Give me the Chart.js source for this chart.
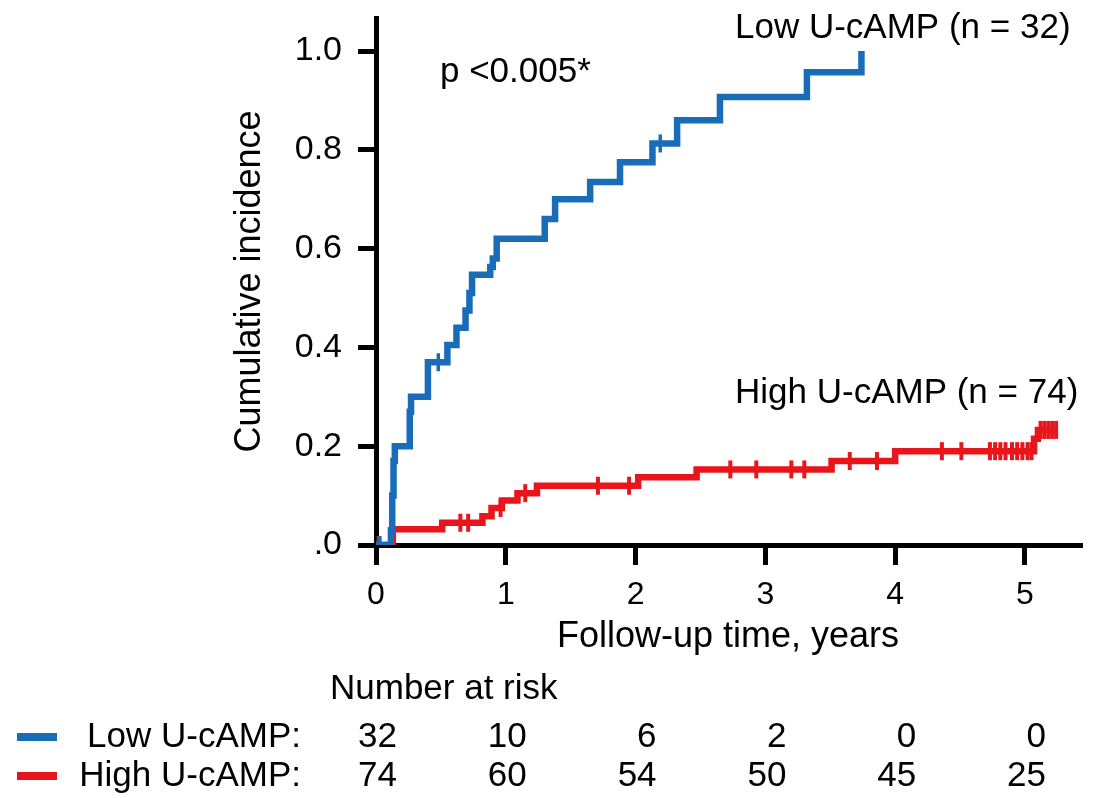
<!DOCTYPE html>
<html>
<head>
<meta charset="utf-8">
<script src="https://cdn.jsdelivr.net/npm/chart.js@4.4.1/dist/chart.umd.min.js"></script>
<style>
  html, body { margin: 0; padding: 0; background: #fff; overflow: hidden; }
  #wrap { width: 1093px; height: 798px; }
  canvas { display: block; }
</style>
</head>
<body>
<div id="wrap"><canvas id="kmChart" width="1093" height="798"></canvas></div>
<script>
// step curves (time in years, cumulative incidence)
const lowTimes  = [0, 0.115, 0.125, 0.135, 0.145, 0.26, 0.27, 0.40, 0.55, 0.62, 0.69, 0.72, 0.74, 0.88, 0.90, 0.93, 1.30, 1.38, 1.65, 1.88, 2.13, 2.32, 2.65, 3.32, 3.74];
const lowValues = [0, 0.03, 0.10, 0.17, 0.20, 0.27, 0.30, 0.37, 0.405, 0.44, 0.475, 0.51, 0.547, 0.563, 0.58, 0.62, 0.66, 0.70, 0.735, 0.775, 0.813, 0.86, 0.907, 0.957, 1.0];
const lowCensored = [0.03, 0.11, 0.48, 2.19];

const highTimes  = [0, 0.13, 0.51, 0.82, 0.89, 0.97, 1.09, 1.24, 2.02, 2.47, 3.51, 4.00, 5.07, 5.10, 5.25];
const highValues = [0, 0.032, 0.045, 0.058, 0.075, 0.09, 0.105, 0.12, 0.137, 0.153, 0.17, 0.19, 0.215, 0.233, 0.233];
const highCensored = [0.02, 0.65, 0.71, 0.96, 1.15, 1.71, 1.95, 2.73, 2.93, 3.20, 3.30, 3.65, 3.86, 4.36, 4.51,
                      4.73, 4.77, 4.81, 4.85, 4.90, 4.94, 4.98, 5.02, 5.05, 5.12, 5.15, 5.18, 5.21, 5.24];

const xTicks = [0, 1, 2, 3, 4, 5];
const yTicks = [0, 0.2, 0.4, 0.6, 0.8, 1.0];
const yTickLabels = ['.0', '0.2', '0.4', '0.6', '0.8', '1.0'];

const riskTimes = [0, 1, 2, 3, 4, 5];
const riskLow  = [32, 10, 6, 2, 0, 0];
const riskHigh = [74, 60, 54, 50, 45, 25];

const blue = 'rgb(24,108,184)';
const red = 'rgb(232,22,28)';
const fontFamily = '"Liberation Sans", Arial, sans-serif';

function stepValue(times, values, t) {
    let v = values[0];
    for (let i = 0; i < times.length; i++) {
        if (times[i] <= t) v = values[i];
    }
    return v;
}

const toPoints = (ts, vs) => ts.map((t, i) => ({ x: t, y: vs[i] }));
const censorPoints = (cs, ts, vs) => cs.map((t) => ({ x: t, y: stepValue(ts, vs, t) }));

// scales must not reserve extra room for their labels, the layout is fixed
function noScalePadding(scale) {
    scale.paddingTop = 0;
    scale.paddingBottom = 0;
    scale.paddingLeft = 0;
    scale.paddingRight = 0;
}

const textPlugin = {
    id: 'kmText',
    afterDraw(chart) {
        const ctx = chart.ctx;
        const xs = chart.scales.x;
        const ys = chart.scales.y;
        ctx.save();
        ctx.fillStyle = '#000';
        ctx.textBaseline = 'middle';

        ctx.font = '35px ' + fontFamily;
        ctx.textAlign = 'left';
        ctx.fillText('p <0.005*', xs.getPixelForValue(0.493), ys.getPixelForValue(0.957));
        ctx.fillText('Low U-cAMP (n = 32)', xs.getPixelForValue(2.766), ys.getPixelForValue(1.047));
        ctx.fillText('High U-cAMP (n = 74)', xs.getPixelForValue(2.766), ys.getPixelForValue(0.308));

        // number at risk table
        ctx.fillText('Number at risk', 330, 689);
        ctx.textAlign = 'right';
        ctx.fillText('Low U-cAMP:', 301, 737);
        ctx.fillText('High U-cAMP:', 301, 776);
        riskTimes.forEach((t, i) => {
            const px = xs.getPixelForValue(t) + 21;
            ctx.fillText(String(riskLow[i]), px, 737);
            ctx.fillText(String(riskHigh[i]), px, 776);
        });

        ctx.lineWidth = 8;
        ctx.strokeStyle = blue;
        ctx.beginPath(); ctx.moveTo(17, 737); ctx.lineTo(57, 737); ctx.stroke();
        ctx.strokeStyle = red;
        ctx.beginPath(); ctx.moveTo(17, 776); ctx.lineTo(57, 776); ctx.stroke();
        ctx.restore();
    }
};

const ctx = document.getElementById('kmChart').getContext('2d');

new Chart(ctx, {
    type: 'line',
    data: {
        datasets: [{
            label: 'Low U-cAMP',
            data: toPoints(lowTimes, lowValues),
            stepped: true,
            borderColor: blue,
            borderWidth: 6.5,
            borderJoinStyle: 'miter',
            pointRadius: 0,
            fill: false
        },
        {
            label: 'High U-cAMP',
            data: toPoints(highTimes, highValues),
            stepped: true,
            borderColor: red,
            borderWidth: 6.5,
            borderJoinStyle: 'miter',
            pointRadius: 0,
            fill: false
        },
        {
            label: 'Low censored',
            data: censorPoints(lowCensored, lowTimes, lowValues),
            showLine: false,
            pointStyle: 'line',
            pointRotation: 90,
            pointRadius: 9,
            pointBorderWidth: 3.5,
            pointBorderColor: blue
        },
        {
            label: 'High censored',
            data: censorPoints(highCensored, highTimes, highValues),
            showLine: false,
            pointStyle: 'line',
            pointRotation: 90,
            pointRadius: 9,
            pointBorderWidth: 4,
            pointBorderColor: red
        }]
    },
    options: {
        responsive: false,
        animation: false,
        layout: { padding: { left: 228, top: 18, right: 3, bottom: 0 } },
        plugins: {
            legend: { display: false },
            tooltip: { enabled: false }
        },
        scales: {
            x: {
                type: 'linear',
                min: 0,
                max: 5.424,
                afterBuildTicks: (scale) => { scale.ticks = xTicks.map((v) => ({ value: v })); },
                afterFit: (scale) => { scale.height = 253; noScalePadding(scale); },
                border: { display: true, color: '#000', width: 5 },
                grid: { drawOnChartArea: false, drawTicks: true, tickLength: 20, lineWidth: 5, color: '#000' },
                ticks: { color: '#000', padding: 11, font: { family: fontFamily, size: 32 } },
                title: {
                    display: true,
                    text: 'Follow-up time, years',
                    color: '#000',
                    font: { family: fontFamily, size: 36 },
                    padding: { top: 0, bottom: 139 }
                }
            },
            y: {
                min: 0,
                max: 1.067,
                afterBuildTicks: (scale) => { scale.ticks = yTicks.map((v) => ({ value: v })); },
                afterFit: (scale) => { scale.width = 148; noScalePadding(scale); },
                border: { display: true, color: '#000', width: 5 },
                grid: { drawOnChartArea: false, drawTicks: true, tickLength: 18, lineWidth: 5, color: '#000' },
                ticks: {
                    color: '#000',
                    padding: 16,
                    font: { family: fontFamily, size: 34 },
                    callback: (value) => {
                        const i = yTicks.findIndex((v) => Math.abs(v - value) < 1e-6);
                        return i >= 0 ? yTickLabels[i] : '';
                    }
                },
                title: {
                    display: true,
                    text: 'Cumulative incidence',
                    color: '#000',
                    font: { family: fontFamily, size: 36 },
                    padding: 0
                }
            }
        }
    },
    plugins: [textPlugin]
});
</script>
</body>
</html>
